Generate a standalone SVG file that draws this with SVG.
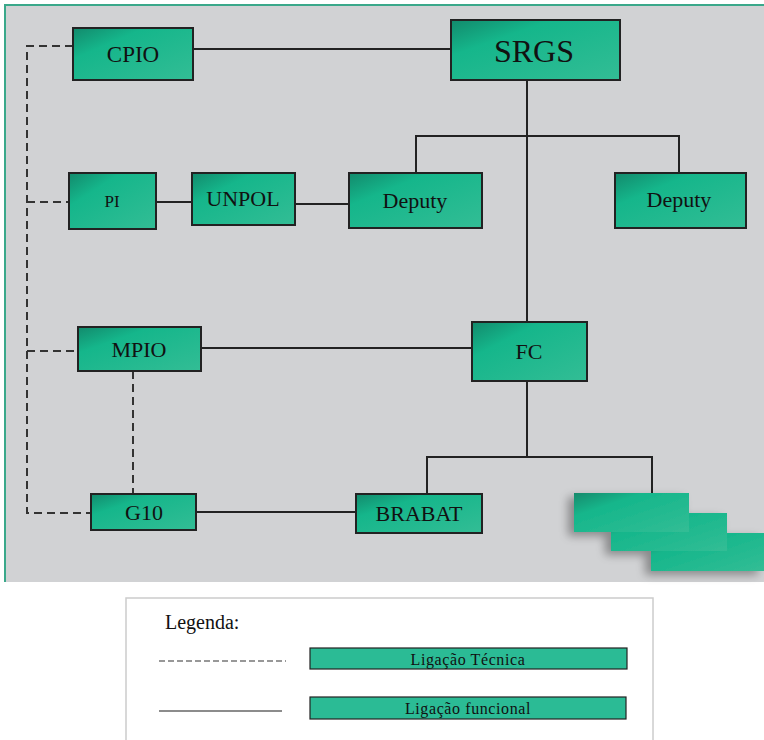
<svg xmlns="http://www.w3.org/2000/svg" width="764" height="740" viewBox="0 0 764 740" font-family="Liberation Serif">
<defs>
<linearGradient id="g" x1="0" y1="0" x2="1" y2="1">
<stop offset="0" stop-color="#128a6c"/>
<stop offset="0.3" stop-color="#15b68b"/>
<stop offset="1" stop-color="#33bd95"/>
</linearGradient>
<filter id="sh" x="-30%" y="-30%" width="160%" height="170%">
<feGaussianBlur in="SourceAlpha" stdDeviation="5"/>
<feOffset dx="-6" dy="4"/>
<feComponentTransfer><feFuncA type="linear" slope="0.35"/></feComponentTransfer>
<feMerge><feMergeNode/><feMergeNode in="SourceGraphic"/></feMerge>
</filter>
<style>
.n{fill:url(#g);stroke:#222;stroke-width:2}
.t{fill:#111;text-anchor:middle}
.l{fill:none;stroke:#222;stroke-width:2}
.d{fill:none;stroke:#333;stroke-width:2;stroke-dasharray:8,5}
.s{fill:url(#g)}
</style>
</defs>
<rect x="0" y="0" width="764" height="740" fill="#fff"/>
<rect x="4" y="5" width="760" height="577" fill="#d1d2d4"/>
<line x1="4" y1="5" x2="764" y2="5" stroke="#3aa88a" stroke-width="2"/>
<line x1="5" y1="5" x2="5" y2="582" stroke="#3aa88a" stroke-width="2"/>

<g id="connectors">
<line class="l" x1="193" y1="49" x2="451" y2="49"/>
<line class="l" x1="527" y1="80" x2="527" y2="322"/>
<polyline class="l" points="416,173 416,136 679,136 679,173"/>
<line class="l" x1="156" y1="202" x2="192" y2="202"/>
<line class="l" x1="295" y1="204" x2="349" y2="204"/>
<line class="l" x1="201" y1="348" x2="472" y2="348"/>
<line class="l" x1="527" y1="381" x2="527" y2="457"/>
<polyline class="l" points="427,494 427,457 652,457 652,493"/>
<line class="l" x1="196" y1="512" x2="356" y2="512"/>
<polyline class="d" points="73,46 27,46 27,513 91,513"/>
<line class="d" x1="27" y1="202" x2="69" y2="202"/>
<line class="d" x1="27" y1="351" x2="78" y2="351"/>
<line class="d" x1="133" y1="371" x2="133" y2="494"/>
</g>

<g id="CPIO"><rect class="n" x="73" y="28" width="120" height="52"/><text class="t" font-family="Liberation Serif" x="133" y="62" font-size="23">CPIO</text></g>
<g id="SRGS"><rect class="n" x="451" y="20" width="169" height="60"/><text class="t" font-family="Liberation Serif" x="534" y="62" font-size="32">SRGS</text></g>
<g id="PI"><rect class="n" x="69" y="173" width="87" height="56"/><text class="t" font-family="Liberation Serif" x="112" y="207" font-size="17">PI</text></g>
<g id="UNPOL"><rect class="n" x="192" y="173" width="103" height="52"/><text class="t" font-family="Liberation Serif" x="243" y="206" font-size="22">UNPOL</text></g>
<g id="Deputy1"><rect class="n" x="349" y="173" width="133" height="55"/><text class="t" font-family="Liberation Serif" x="415" y="208" font-size="22">Deputy</text></g>
<g id="Deputy2"><rect class="n" x="615" y="173" width="131" height="55"/><text class="t" font-family="Liberation Serif" x="679" y="207" font-size="22">Deputy</text></g>
<g id="MPIO"><rect class="n" x="78" y="327" width="123" height="44"/><text class="t" font-family="Liberation Serif" x="139" y="357" font-size="22">MPIO</text></g>
<g id="FC"><rect class="n" x="472" y="322" width="115" height="59"/><text class="t" font-family="Liberation Serif" x="529" y="359" font-size="22">FC</text></g>
<g id="G10"><rect class="n" x="91" y="494" width="105" height="36"/><text class="t" font-family="Liberation Serif" x="144" y="520" font-size="22">G10</text></g>
<g id="BRABAT"><rect class="n" x="356" y="494" width="126" height="39"/><text class="t" font-family="Liberation Serif" x="419" y="521" font-size="22">BRABAT</text></g>

<g id="stack" filter="url(#sh)">
<rect class="s" x="651" y="533" width="113" height="38"/>
<rect class="s" x="611" y="513" width="116" height="38"/>
<rect class="s" x="574" y="493" width="115" height="39"/>
</g>

<g id="legend">
<rect x="126" y="598" width="527" height="150" fill="#fff" stroke="#ccc" stroke-width="1.5"/>
<text x="165" y="629" font-family="Liberation Serif" font-size="20" fill="#111">Legenda:</text>
<line x1="159" y1="661" x2="286" y2="661" stroke="#333" stroke-width="1.2" stroke-dasharray="6,3"/>
<rect x="310" y="648" width="317" height="21" fill="#2bbb95" stroke="#222" stroke-width="1.2"/>
<text class="t" font-family="Liberation Serif" x="468" y="665" font-size="16" letter-spacing="0.6">Ligação Técnica</text>
<line x1="159" y1="711" x2="282" y2="711" stroke="#666" stroke-width="1.5"/>
<rect x="310" y="697" width="316" height="22" fill="#2bbb95" stroke="#222" stroke-width="1.2"/>
<text class="t" font-family="Liberation Serif" x="468" y="714" font-size="16" letter-spacing="0.6">Ligação funcional</text>
</g>
</svg>
